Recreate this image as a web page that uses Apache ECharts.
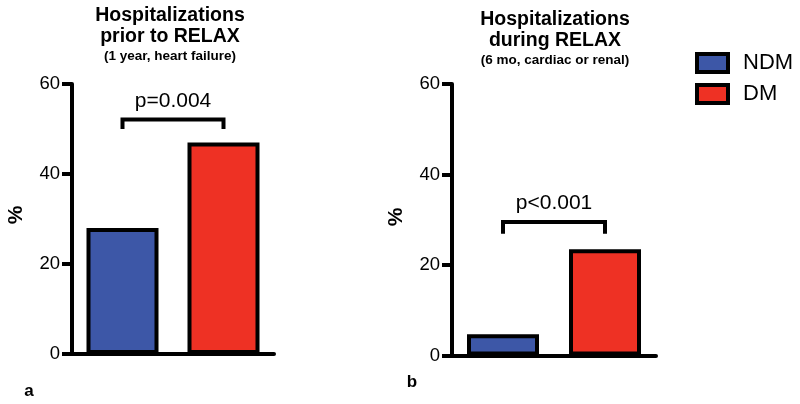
<!DOCTYPE html>
<html>
<head>
<meta charset="utf-8">
<script src="https://cdn.jsdelivr.net/npm/echarts@6/dist/echarts.min.js"></script>
<style>html,body{margin:0;padding:0;background:#fff}#c{width:800px;height:404px}</style>
</head>
<body>
<div id="c"></div>
<script>
// ---- data ----
const categories = ['NDM', 'DM'];
const priorValues = [28, 47];        // panel a: % hospitalized prior to RELAX
const duringValues = [4.7, 23.5];    // panel b: % hospitalized during RELAX
const yMin = 0, yMax = 60, yInterval = 20;
const titleA = ['Hospitalizations', 'prior to RELAX'];
const subA = '(1 year, heart failure)';
const titleB = ['Hospitalizations', 'during RELAX'];
const subB = '(6 mo, cardiac or renal)';
// brackets: [fromCategory, toCategory, barLevel, footLevel]
const bracketA = [0, 1, 52.1, 50.0];
const bracketB = [0, 1, 29.5, 26.9];
const pLabelA = 'p=0.004';
const pLabelB = 'p<0.001';
const panelLabels = ['a', 'b'];

const BLUE = '#3D57A7', RED = '#EE3124';
const FONT = '"Liberation Sans", Arial, Helvetica, sans-serif';

function xAxisCfg(i) {
  return {
    type: 'category', gridIndex: i, data: categories,
    axisLine: { lineStyle: { color: '#000', width: 4 } },
    axisTick: { show: false }, axisLabel: { show: false }
  };
}
function yAxisCfg(i) {
  return {
    type: 'value', gridIndex: i, min: yMin, max: yMax, interval: yInterval,
    axisLine: { show: true, lineStyle: { color: '#000', width: 4 } },
    axisTick: { show: true, length: 10, lineStyle: { color: '#000', width: 4 } },
    axisLabel: { color: '#000', fontSize: 18.5, fontFamily: FONT, margin: 12 },
    splitLine: { show: false }
  };
}
function barSeries(i, vals) {
  const common = { type: 'bar', xAxisIndex: i, yAxisIndex: i, barWidth: 72, barGap: '-100%' };
  return [
    Object.assign({}, common, { name: categories[0], data: [vals[0], '-'],
      itemStyle: { color: BLUE, borderColor: '#000', borderWidth: 4 } }),
    Object.assign({}, common, { name: categories[1], data: ['-', vals[1]],
      itemStyle: { color: RED, borderColor: '#000', borderWidth: 4 } })
  ];
}
function bracketSeries(i, br, label) {
  return {
    type: 'custom', xAxisIndex: i, yAxisIndex: i, silent: true,
    encode: { x: 0, y: 2 },
    data: [br],
    renderItem: function (params, api) {
      const p0 = api.coord([api.value(0), api.value(3)]);
      const p1 = api.coord([api.value(0), api.value(2)]);
      const p2 = api.coord([api.value(1), api.value(2)]);
      const p3 = api.coord([api.value(1), api.value(3)]);
      return {
        type: 'group',
        children: [
          { type: 'polyline', shape: { points: [p0, p1, p2, p3] },
            style: { stroke: '#000', lineWidth: 4, fill: null } },
          { type: 'text', x: (p1[0] + p2[0]) / 2, y: p1[1] - 8,
            style: { text: label, fill: '#000', font: '21px ' + FONT,
              textAlign: 'center', textVerticalAlign: 'bottom' } }
        ]
      };
    }
  };
}
function titleGraphic(cx, top, lines, sub) {
  return [
    { type: 'text', x: cx, y: top, style: { text: lines[0], fill: '#000',
      font: 'bold 19.5px ' + FONT, textAlign: 'center', textVerticalAlign: 'middle' } },
    { type: 'text', x: cx, y: top + 21.5, style: { text: lines[1], fill: '#000',
      font: 'bold 19.5px ' + FONT, textAlign: 'center', textVerticalAlign: 'middle' } },
    { type: 'text', x: cx, y: top + 40.5, style: { text: sub, fill: '#000',
      font: 'bold 13.5px ' + FONT, textAlign: 'center', textVerticalAlign: 'middle' } }
  ];
}

const chart = echarts.init(document.getElementById('c'), null, { renderer: 'canvas' });
chart.setOption({
  animation: false,
  backgroundColor: '#fff',
  grid: [
    { left: 72, top: 84, width: 202, height: 270 },
    { left: 452, top: 84, width: 204, height: 271.5 }
  ],
  xAxis: [xAxisCfg(0), xAxisCfg(1)],
  yAxis: [yAxisCfg(0), yAxisCfg(1)],
  legend: {
    data: categories, orient: 'vertical', left: 690, top: 47, itemGap: 9,
    itemWidth: 31, itemHeight: 18, icon: 'rect', selectedMode: false,
    itemStyle: { borderColor: '#000', borderWidth: 4 },
    textStyle: { color: '#000', fontSize: 22, fontFamily: FONT, padding: [0, 0, 0, 10] }
  },
  series: [].concat(
    barSeries(0, priorValues), barSeries(1, duringValues),
    [bracketSeries(0, bracketA, pLabelA), bracketSeries(1, bracketB, pLabelB)]
  ),
  graphic: [].concat(
    titleGraphic(170, 15.5, titleA, subA),
    titleGraphic(555, 19.5, titleB, subB),
    [
      { type: 'text', x: 16, y: 215, rotation: Math.PI / 2, style: { text: '%', fill: '#000',
        font: 'bold 21px ' + FONT, textAlign: 'center', textVerticalAlign: 'middle' } },
      { type: 'text', x: 396, y: 217, rotation: Math.PI / 2, style: { text: '%', fill: '#000',
        font: 'bold 21px ' + FONT, textAlign: 'center', textVerticalAlign: 'middle' } },
      { type: 'text', x: 29, y: 391, style: { text: panelLabels[0], fill: '#000',
        font: 'bold 17px ' + FONT, textAlign: 'center', textVerticalAlign: 'middle' } },
      { type: 'text', x: 412, y: 382, style: { text: panelLabels[1], fill: '#000',
        font: 'bold 17px ' + FONT, textAlign: 'center', textVerticalAlign: 'middle' } }
    ]
  )
});
</script>
</body>
</html>
